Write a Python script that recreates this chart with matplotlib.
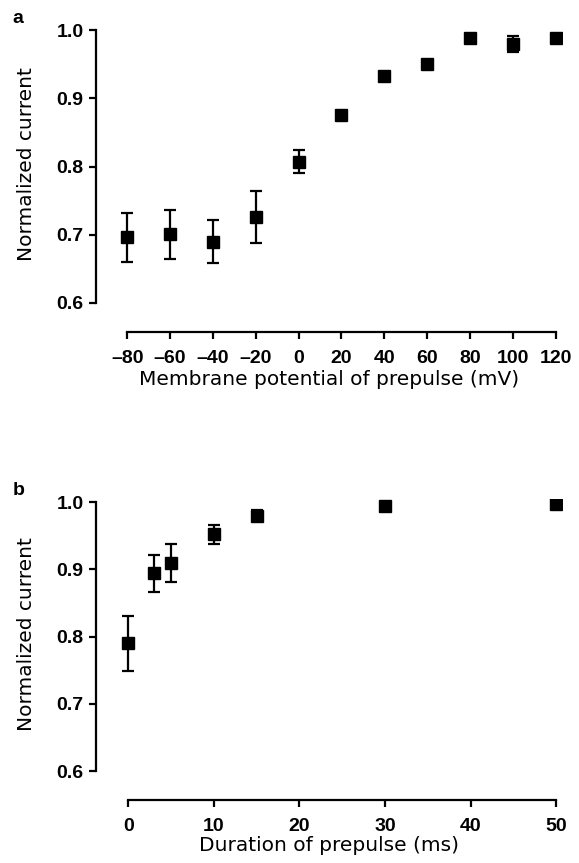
import matplotlib.pyplot as plt

plt.rcParams['font.family'] = ['Liberation Sans', 'DejaVu Sans']

# panel a: prepulse potential
volt = [-80, -60, -40, -20, 0, 20, 40, 60, 80, 100, 120]
cur_a = [0.696, 0.701, 0.690, 0.726, 0.807, 0.876, 0.933, 0.950, 0.988, 0.980, 0.988]
err_a = [0.036, 0.036, 0.032, 0.038, 0.017, 0.005, 0.006, 0.003, 0.007, 0.012, 0.003]
volt_labels = ['\u201380', '\u201360', '\u201340', '\u201320', '0', '20', '40',
               '60', '80', '100', '120']

# panel b: prepulse duration
dur = [0, 3, 5, 10, 15, 30, 50]
cur_b = [0.790, 0.894, 0.910, 0.952, 0.980, 0.995, 0.998]
err_b = [0.041, 0.028, 0.028, 0.014, 0.008, 0.004, 0.003]
dur_ticks = [0, 10, 20, 30, 40, 50]

yticks = [0.6, 0.7, 0.8, 0.9, 1.0]

fig = plt.figure(figsize=(5.79, 8.63), dpi=100)
ax1 = fig.add_axes([0.166, 0.615, 0.805, 0.354])
ax2 = fig.add_axes([0.166, 0.073, 0.805, 0.349])

def style(ax, x, y, e, xt, xtl, xlim, xlabel, xl_y):
    ax.errorbar(x, y, yerr=e, fmt='s', color='black', ms=8.5, capsize=4,
                elinewidth=1.6, capthick=1.6)
    ax.set_xlim(*xlim)
    ax.set_ylim(0.557, 1.005)
    ax.set_xticks(xt)
    ax.set_xticklabels(xtl)
    ax.set_yticks(yticks)
    ax.set_yticklabels(['%.1f' % v for v in yticks])
    ax.spines['top'].set_visible(False)
    ax.spines['right'].set_visible(False)
    ax.spines['left'].set_bounds(0.6, 1.0)
    ax.spines['bottom'].set_bounds(xt[0], xt[-1])
    for s in ['left', 'bottom']:
        ax.spines[s].set_linewidth(1.6)
    ax.tick_params(width=1.6, length=5, labelsize=14)
    ax.tick_params(axis='x', pad=8)
    ax.tick_params(axis='y', pad=4)
    for lab in ax.get_xticklabels() + ax.get_yticklabels():
        lab.set_fontweight('bold')
    ax.set_ylabel('Normalized current', fontsize=14.5, family='DejaVu Sans')
    ax.set_xlabel(xlabel, fontsize=14.5, family='DejaVu Sans')
    ax.yaxis.set_label_coords(-0.13, 0.55)
    ax.xaxis.set_label_coords(0.5, xl_y)

style(ax1, volt, cur_a, err_a, volt, volt_labels, (-94.5, 123),
      'Membrane potential of prepulse (mV)', -0.125)
style(ax2, dur, cur_b, err_b, dur_ticks, [str(t) for t in dur_ticks], (-3.74, 50.7),
      'Duration of prepulse (ms)', -0.118)

fig.text(0.022, 0.978, 'a', fontsize=14, fontweight='bold', va='center')
fig.text(0.022, 0.432, 'b', fontsize=14, fontweight='bold', va='center')

fig.savefig('out.png', dpi=100)
